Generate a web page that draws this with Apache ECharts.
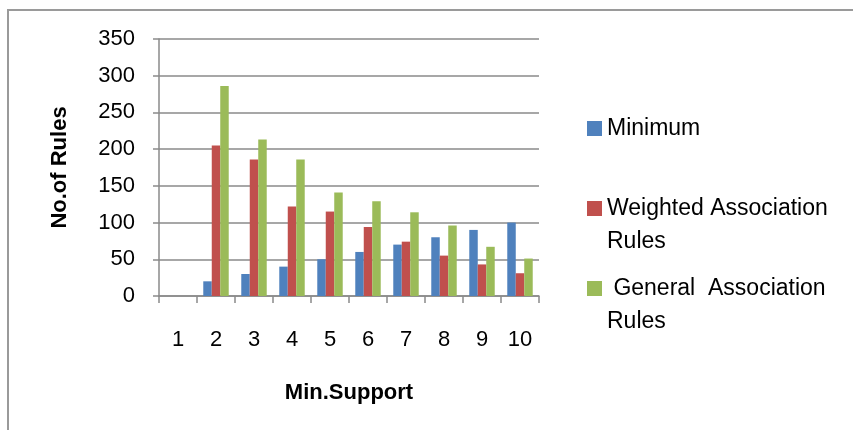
<!DOCTYPE html>
<html>
<head>
<meta charset="utf-8">
<title>No.of Rules</title>
<script src="https://cdn.jsdelivr.net/npm/echarts@6/dist/echarts.min.js"></script>
<style>
	html, body { margin: 0; padding: 0; background: #fff; }
	#cylinderShape { width: 853px; height: 430px; }
</style>
</head>
<body>
<div id="cylinderShape"></div>
<script>
// 数据
var categories = ['1', '2', '3', '4', '5', '6', '7', '8', '9', '10'];
var seriesNames = ['Minimum', 'Weighted Association Rules', ' General  Association Rules'];
var minimumData = [0, 20, 30, 40, 50, 60, 70, 80, 90, 100];
var weightedData = [0, 205, 186, 122, 115, 94, 74, 55, 43, 31];
var generalData = [0, 286, 213, 186, 141, 129, 114, 96, 67, 51];
var yTicks = [0, 50, 100, 150, 200, 250, 300, 350];

var RulesChart = {
	font : 'Liberation Sans, Arial, sans-serif',
	gridColor : '#8a8a8a',

	// legend icon: square on first text line
	legendIcon : 'path://M0,0L0,0M0,9L15,9L15,24L0,24ZM0,66L0,66',

	drawChart : function() {
		var myChart = echarts.init(document.getElementById('cylinderShape'), null, {renderer: 'canvas'});
		var font = this.font;
		var colors = ['#4F81BD', '#C0504D', '#9BBB59'];
		var seriesData = [minimumData, weightedData, generalData];
		var series = [];
		for (var i = 0; i < seriesNames.length; i++) {
			series.push({
				name : seriesNames[i],
				type : 'bar',
				data : seriesData[i],
				barGap : '0%',
				barCategoryGap : '33%',
				itemStyle : { color : colors[i] }
			});
		}
		var option = {
			animation : false,
			color : colors,
			textStyle : { fontFamily : font },
			graphic : [ {
				type : 'rect',
				shape : { x : 8, y : 10, width : 900, height : 500 },
				style : { fill : 'none', stroke : '#9a9a9a', lineWidth : 2 },
				silent : true
			} ],
			legend : {
				orient : 'vertical',
				left : 582,
				top : 107,
				itemWidth : 15,
				itemHeight : 66,
				itemGap : 14,
				icon : this.legendIcon,
				data : seriesNames,
				formatter : function(name) {
					if (name == 'Minimum') {
						return 'Minimum\n ';
					}
					var idx = name.lastIndexOf(' ');
					return name.substring(0, idx) + '\n' + name.substring(idx + 1);
				},
				textStyle : {
					fontFamily : font,
					fontSize : 23,
					lineHeight : 33,
					color : '#000'
				}
			},
			grid : {
				left : 159,
				right : 314,
				top : 39,
				bottom : 134
			},
			xAxis : [ {
				type : 'category',
				data : categories,
				name : 'Min.Support',
				nameLocation : 'middle',
				nameGap : 86,
				nameTextStyle : {
					fontFamily : font,
					fontSize : 22,
					fontWeight : 'bold',
					color : '#000'
				},
				axisLine : { lineStyle : { color : this.gridColor, width : 1.5 } },
				axisTick : { show : true, length : 7, lineStyle : { color : this.gridColor, width : 1.5 } },
				axisLabel : {
					margin : 33,
					fontFamily : font,
					fontSize : 22,
					color : '#000'
				}
			} ],
			yAxis : [ {
				type : 'value',
				min : yTicks[0],
				max : yTicks[yTicks.length - 1],
				interval : yTicks[1] - yTicks[0],
				name : 'No.of Rules',
				nameLocation : 'middle',
				nameGap : 88,
				nameTextStyle : {
					fontFamily : font,
					fontSize : 22,
					fontWeight : 'bold',
					color : '#000'
				},
				axisLine : { show : true, lineStyle : { color : this.gridColor, width : 1.5 } },
				axisTick : { show : true, length : 6, lineStyle : { color : this.gridColor, width : 1.5 } },
				splitLine : { show : true, lineStyle : { color : this.gridColor, width : 1.5 } },
				axisLabel : {
					margin : 24,
					fontFamily : font,
					fontSize : 22,
					color : '#000'
				}
			} ],
			series : series
		};
		myChart.setOption(option);
	}
};

RulesChart.drawChart();
</script>
</body>
</html>
